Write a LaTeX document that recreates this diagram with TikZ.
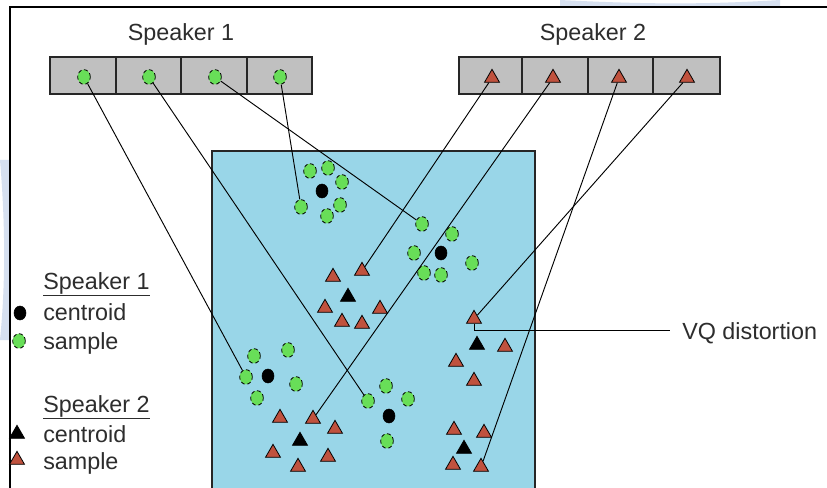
\documentclass[tikz,border=0pt]{standalone}
\usepackage{fontspec}
\setmainfont{Liberation Sans}
\usetikzlibrary{shapes.geometric}
\definecolor{sgreen}{RGB}{104,222,88}
\definecolor{sred}{RGB}{192,82,62}
\definecolor{sblue}{RGB}{153,214,232}
\definecolor{sgray}{RGB}{192,192,192}
\definecolor{txt}{RGB}{45,45,45}
\definecolor{wm}{RGB}{214,224,240}
\tikzset{
  samp/.style={ellipse,draw=black,fill=sgreen,densely dashed,line width=0.6pt,minimum width=9.5pt,minimum height=11pt,inner sep=0pt},
  cent/.style={ellipse,draw=black,fill=black,minimum width=9pt,minimum height=10.5pt,inner sep=0pt},
  tsamp/.style={regular polygon,regular polygon sides=3,draw=black,fill=sred,line width=0.6pt,minimum size=13pt,inner sep=0pt},
  tcent/.style={regular polygon,regular polygon sides=3,draw=black,fill=black,line width=0.6pt,minimum size=13pt,inner sep=0pt},
  cellbox/.style={draw=black!85,fill=sgray,line width=1.1pt},
  link/.style={draw=black,line width=0.7pt},
  lbl/.style={font=\fontsize{17.5}{20}\selectfont,text=txt,inner sep=0pt}
}
\begin{document}
\begin{tikzpicture}[x=0.75pt,y=-0.75pt]
\useasboundingbox (0,0) rectangle (827,488);
\fill[white] (0,0) rectangle (827,488);
% faint watermark swooshes
\fill[wm] (560,0) .. controls (640,4) and (700,5) .. (780,0) -- (780,6) -- (560,6) -- cycle;
\fill[wm] (0,160) .. controls (5,220) and (6,280) .. (0,340) -- (9,340) -- (9,160) -- cycle;
% outer frame
\draw[line width=1.2pt] (10,488) -- (10,7) -- (827,7);
% blue area
\draw[fill=sblue,line width=1pt,draw=black!85] (212,495) -- (212,151) -- (535,151) -- (535,495);
% boxes
\draw[cellbox] (50,57) rectangle (116,94);
\draw[cellbox] (116,57) rectangle (181,94);
\draw[cellbox] (181,57) rectangle (247,94);
\draw[cellbox] (247,57) rectangle (312,94);
\draw[cellbox] (459,57) rectangle (522,94);
\draw[cellbox] (522,57) rectangle (588,94);
\draw[cellbox] (588,57) rectangle (653,94);
\draw[cellbox] (653,57) rectangle (720,94);
% titles
\node[lbl,anchor=base] (t1) at (181,41) {Speaker 1};
\node[lbl,anchor=base] (t2) at (593,41) {Speaker 2};
% box items
\node[samp] (s1a) at (84,77) {};
\node[samp] (s1b) at (149,77) {};
\node[samp] (s1c) at (215,77) {};
\node[samp] (s1d) at (280,77) {};
\node[tsamp] (s2a) at (492,78) {};
\node[tsamp] (s2b) at (553,78) {};
\node[tsamp] (s2c) at (619,78) {};
\node[tsamp] (s2d) at (687,78) {};
% cluster A
\node[samp] (a1) at (310,171) {};
\node[samp] (a2) at (328,168) {};
\node[samp] (a3) at (342,182) {};
\node[cent] (ac) at (322,191) {};
\node[samp] (a4) at (301,207) {};
\node[samp] (a5) at (340,205) {};
\node[samp] (a6) at (327,216) {};
% cluster B
\node[samp] (b1) at (422,224) {};
\node[samp] (b2) at (452,234) {};
\node[cent] (bc) at (441,253) {};
\node[samp] (b3) at (414,253) {};
\node[samp] (b4) at (472,263) {};
\node[samp] (b5) at (424,273) {};
\node[samp] (b6) at (441,275) {};
% cluster C
\node[samp] (c1) at (254,356) {};
\node[samp] (c2) at (288,350) {};
\node[samp] (c3) at (246,377) {};
\node[cent] (cc) at (268,376) {};
\node[samp] (c4) at (296,384) {};
\node[samp] (c5) at (257,398) {};
% cluster D
\node[samp] (d1) at (386,386) {};
\node[samp] (d2) at (368,401) {};
\node[samp] (d3) at (408,399) {};
\node[cent] (dc) at (389,416) {};
\node[samp] (d4) at (387,441) {};
% cluster P
\node[tsamp] (p1) at (333,277) {};
\node[tsamp] (p2) at (362,271) {};
\node[tcent] (pc) at (348,297) {};
\node[tsamp] (p3) at (325,308) {};
\node[tsamp] (p4) at (380,309) {};
\node[tsamp] (p5) at (342,322) {};
\node[tsamp] (p6) at (362,324) {};
% cluster E
\node[tsamp] (e1) at (280,418) {};
\node[tsamp] (e2) at (313,419) {};
\node[tsamp] (e3) at (335,429) {};
\node[tcent] (ec) at (300,441) {};
\node[tsamp] (e4) at (273,453) {};
\node[tsamp] (e5) at (328,457) {};
\node[tsamp] (e6) at (298,467) {};
% cluster F
\node[tsamp] (f1) at (474,319) {};
\node[tcent] (fc) at (477,345) {};
\node[tsamp] (f2) at (505,347) {};
\node[tsamp] (f3) at (456,362) {};
\node[tsamp] (f4) at (474,381) {};
% cluster G
\node[tsamp] (g1) at (454,430) {};
\node[tsamp] (g2) at (484,433) {};
\node[tcent] (gc) at (464,449) {};
\node[tsamp] (g3) at (453,465) {};
\node[tsamp] (g4) at (481,467) {};
% connectors
\draw[link] (s1a) -- (c3);
\draw[link] (s1b) -- (d2);
\draw[link] (s1c) -- (b1);
\draw[link] (s1d) -- (a4);
\draw[link] (s2a) -- (p2);
\draw[link] (s2b) -- (e2);
\draw[link] (s2c) -- (g4);
\draw[link] (s2d) -- (f1);
% VQ distortion
\coordinate (vq) at (670,330);
\draw[link] (f1.south) |- (vq);
\node[lbl,anchor=base west] (vql) at (682,339) {VQ distortion};
% legend
\node[lbl,anchor=base west] (l1) at (43,289) {\underline{Speaker 1}};
\node[cent] (lc1) at (20,313) {};
\node[lbl,anchor=base west] (l1c) at (43,320) {centroid};
\node[samp] (ls1) at (19,341) {};
\node[lbl,anchor=base west] (l1s) at (43,349) {sample};
\node[lbl,anchor=base west] (l2) at (43,412) {\underline{Speaker 2}};
\node[tcent] (lc2) at (17,434) {};
\node[lbl,anchor=base west] (l2c) at (43,442) {centroid};
\node[tsamp] (ls2) at (17,460) {};
\node[lbl,anchor=base west] (l2s) at (43,469) {sample};
\end{tikzpicture}
\end{document}
